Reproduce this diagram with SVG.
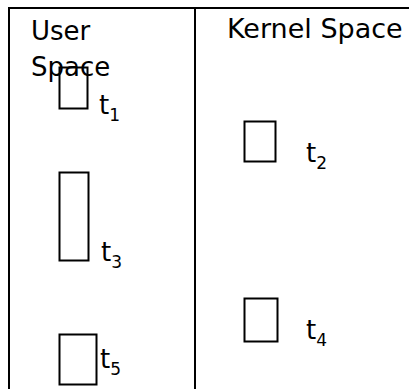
<svg xmlns="http://www.w3.org/2000/svg" width="409" height="389" viewBox="0 0 409 389">
<style>
.frame{stroke:#000;stroke-width:2;fill:none}
.box{stroke:#000;stroke-width:2;fill:none}
.lbl{font-family:"DejaVu Sans",sans-serif;font-size:26px;fill:#000}
.t{font-size:26px}
.sub{font-size:17px}
</style>
<rect width="409" height="389" fill="#fff"/>
<g id="frame">
<path class="frame" d="M9,389 V8 H409 M195,8 V389"/>
</g>
<g id="headers">
<text class="lbl" x="31" y="40">User</text>
<text class="lbl" x="31" y="76">Space</text>
<text class="lbl" x="227" y="38" style="font-size:27px">Kernel Space</text>
</g>
<g id="t1"><rect class="box" x="59.5" y="67.5" width="28" height="41"/><text class="lbl t" x="99" y="114">t<tspan class="sub" dy="7">1</tspan></text></g>
<g id="t2"><rect class="box" x="244.5" y="121.5" width="31" height="40"/><text class="lbl t" x="306" y="162">t<tspan class="sub" dy="7">2</tspan></text></g>
<g id="t3"><rect class="box" x="59.5" y="172.5" width="29" height="88"/><text class="lbl t" x="101" y="261">t<tspan class="sub" dy="7">3</tspan></text></g>
<g id="t4"><rect class="box" x="244.5" y="298.5" width="33" height="43"/><text class="lbl t" x="306" y="339">t<tspan class="sub" dy="7">4</tspan></text></g>
<g id="t5"><rect class="box" x="59.5" y="334.5" width="37" height="50"/><text class="lbl t" x="100" y="368">t<tspan class="sub" dy="7">5</tspan></text></g>
<g id="connectors"></g>
</svg>
